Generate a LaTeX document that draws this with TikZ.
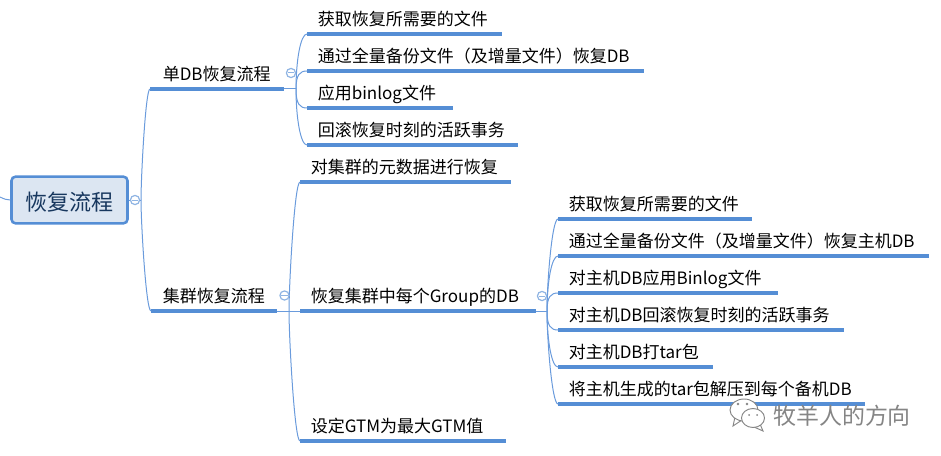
\documentclass[tikz,border=0pt]{standalone}
\usepackage{fontspec}
\setmainfont{Noto Sans CJK SC}
\usetikzlibrary{calc}
\definecolor{lineblue}{HTML}{558ED5}
\definecolor{thinblue}{HTML}{6A9BDC}
\definecolor{ringblue}{HTML}{8FB4E3}
\definecolor{rootfill}{HTML}{DCE6F2}
\definecolor{roottext}{HTML}{17375E}
\definecolor{markgray}{HTML}{858585}
\tikzset{
  x=0.75pt,y=-0.75pt,
  topic/.style={inner sep=0pt,anchor=south west,text height=11.25pt,text depth=6pt,font=\fontsize{12.75pt}{15pt}\selectfont,text=black},
  uline/.style={draw=lineblue,line width=2.7pt,line cap=butt},
  thin link/.style={draw=thinblue,line width=0.75pt},
  ring/.style={circle,draw=ringblue,fill=white,line width=0.9pt,minimum size=6.9pt,inner sep=0pt},
  rootbox/.style={draw=lineblue,fill=rootfill,line width=1.9pt,rounded corners=3pt,minimum width=87pt,minimum height=35pt,inner sep=0pt,text height=15.5pt,text depth=0.5pt,text=roottext,font=\fontsize{16.5pt}{20pt}\selectfont},
  wmtext/.style={text=markgray,font=\fontsize{17.2pt}{20pt}\selectfont,inner sep=0pt},
  bubble/.style={draw=markgray,line width=0.7pt,fill=white},
  eye/.style={fill=markgray,draw=none}
}
\newcommand\topic[6]{%
  \pgfmathsetlengthmacro\tw{(#3-#2)*0.75pt}%
  \pgfmathsetlengthmacro\tp{#5*0.75pt}%
  \node[topic] (#1) at (#2,#4) {\makebox[\tw][l]{\hspace{\tp}#6}};
  \draw[uline] (#1.south west) -- (#1.south east);
}
% curved branch from a junction to the start of a topic's underline
\newcommand\branch[4]{%
  \draw[thin link] (#3) .. controls ($(#3)!#1!(#3|-#4.south west)$) and ($(#3|-#4.south west)!#2!(#4.south west)$) .. (#4.south west);
}
\newcommand\collapse[2]{%
  \node[ring] (#1) at (#2) {};
  \draw[draw=ringblue,line width=0.75pt] ($(#1.west)+(2,0)$) -- ($(#1.east)+(-2,0)$);
}
\begin{document}
\begin{tikzpicture}
\useasboundingbox (0,0) rectangle (941,456);
% junctions
\coordinate (jroot) at (141,200);
\coordinate (jsingle) at (296,89);
\coordinate (jcluster) at (289,311);
\coordinate (jgroup) at (547,311);
\coordinate (stub) at (0,197);
% root
\node[rootbox] (root) at (69.5,200) {恢复流程};
\draw[thin link] (stub) .. controls (4,199) and (7,200) .. (root.west);
\draw[thin link] (root.east) -- (jroot);
\collapse{c0}{135,200}
% level one
\topic{single}{150}{283}{89}{12.5}{单DB恢复流程}
\topic{cluster}{151}{276}{311}{11.5}{集群恢复流程}
\branch{0.2}{0.5}{jroot}{single}
\branch{0.2}{0.5}{jroot}{cluster}
% single DB
\topic{a}{307}{501}{34}{10.5}{获取恢复所需要的文件}
\topic{b}{307}{643}{71}{10.5}{通过全量备份文件（及增量文件）恢复DB}
\topic{c}{307}{452}{108}{10.5}{应用binlog文件}
\topic{d}{307}{517}{145}{10.5}{回滚恢复时刻的活跃事务}
\draw[thin link] (single.south east) -- (jsingle);
\branch{0.5}{0.4}{jsingle}{a}
\branch{0.8}{0.35}{jsingle}{b}
\branch{0.8}{0.35}{jsingle}{c}
\branch{0.5}{0.4}{jsingle}{d}
\collapse{c1}{291,73}
% cluster
\topic{e}{300}{510}{182}{10.5}{对集群的元数据进行恢复}
\topic{f}{300}{535}{311}{10.5}{恢复集群中每个Group的DB}
\topic{g}{300}{505}{441}{10.5}{设定GTM为最大GTM值}
\draw[thin link] (cluster.south east) -- (f.south west);
\branch{0.2}{0.5}{jcluster}{e}
\branch{0.2}{0.5}{jcluster}{g}
\collapse{c2}{284.5,295.5}
% group
\topic{h}{558}{751}{219}{10.5}{获取恢复所需要的文件}
\topic{i}{558}{928}{256}{10.5}{通过全量备份文件（及增量文件）恢复主机DB}
\topic{j}{558}{777}{293}{10.5}{对主机DB应用Binlog文件}
\topic{k}{558}{843}{330}{10.5}{对主机DB回滚恢复时刻的活跃事务}
\topic{l}{558}{712}{367}{10.5}{对主机DB打tar包}
\topic{m}{558}{864}{404}{10.5}{将主机生成的tar包解压到每个备机DB}
\draw[thin link] (f.south east) -- (jgroup);
\branch{0.3}{0.45}{jgroup}{h}
\branch{0.5}{0.4}{jgroup}{i}
\branch{0.8}{0.35}{jgroup}{j}
\branch{0.8}{0.35}{jgroup}{k}
\branch{0.5}{0.4}{jgroup}{l}
\branch{0.3}{0.45}{jgroup}{m}
\collapse{c3}{542,296}
% watermark
\node[wmtext,anchor=west] (wm) at (773,416) {牧羊人的方向};
\draw[bubble] (735,417) -- (733,426) -- (742,420) -- cycle;
\draw[bubble] (744,410) ellipse [x radius=14,y radius=11];
\draw[bubble] (760,424) -- (763,431) -- (754,427) -- cycle;
\draw[bubble] (753,418) ellipse [x radius=11.5,y radius=9.5];
\fill[eye] (738,404) circle [radius=1.3];
\fill[eye] (747,404) circle [radius=1.3];
\fill[eye] (749,415) circle [radius=1];
\fill[eye] (757,415) circle [radius=1];
\end{tikzpicture}
\end{document}
